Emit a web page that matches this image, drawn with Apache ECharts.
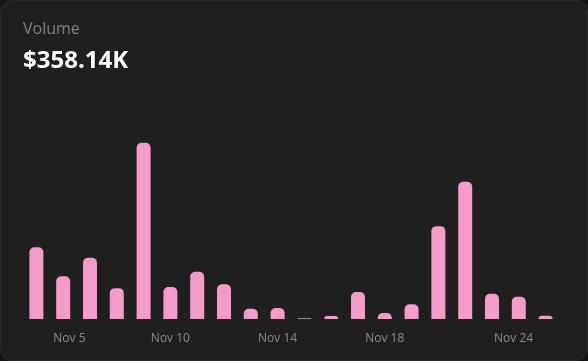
<!DOCTYPE html>
<html>
<head>
<meta charset="utf-8">
<script src="https://cdn.jsdelivr.net/npm/echarts@6/dist/echarts.min.js"></script>
<style>
html,body{margin:0;padding:0;background:#141414;}
#card{position:absolute;left:0;top:0;width:586px;height:359px;border:1px solid #2a2a2a;border-radius:12px;background:#1f1f1f;overflow:hidden;}
#chart{width:586px;height:359px;}
</style>
</head>
<body>
<div id="card"><div id="chart"></div></div>
<script>
const categories = ['Nov 5','Nov 6','Nov 7','Nov 8','Nov 9','Nov 10','Nov 11','Nov 12','Nov 13','Nov 14','Nov 15','Nov 16','Nov 17','Nov 18','Nov 19','Nov 20','Nov 21','Nov 22','Nov 23','Nov 24'];
const volumeK = [30.2, 18.0, 25.8, 13.0, 74.2, 13.5, 19.9, 14.6, 4.3, 4.6, 0.3, 1.3, 11.4, 2.5, 6.2, 39.1, 57.8, 10.6, 9.4, 1.4];
const labelIndexes = [0, 5, 9, 13, 19];
const titleText = 'Volume';
const totalText = '$358.14K';

const chart = echarts.init(document.getElementById('chart'), null, {renderer:'canvas'});
chart.setOption({
  animation:false,
  backgroundColor:'transparent',
  title:{
    text:titleText,
    subtext:totalText,
    left:17, top:15,
    itemGap:12,
    textStyle:{color:'#808080',fontSize:16,fontWeight:'normal',fontFamily:'Open Sans'},
    subtextStyle:{color:'#ffffff',fontSize:24,fontWeight:'bold',fontFamily:'Open Sans'}
  },
  grid:{left:22,right:28,top:128,bottom:41},
  xAxis:{
    type:'category',
    data:categories,
    axisLine:{show:false},
    axisTick:{show:false},
    axisLabel:{
      interval:function(i){return labelIndexes.indexOf(i)>=0;},
      color:'#8a8a8a',fontSize:12,fontFamily:'Open Sans',margin:14,
      formatter:function(v,i){
        if(i===0) return '{first|'+v+'}';
        if(i===categories.length-1) return '{last|'+v+'}';
        return v;
      },
      rich:{
        first:{color:'#8a8a8a',fontSize:12,fontFamily:'Open Sans',padding:[0,0,0,66]},
        last:{color:'#8a8a8a',fontSize:12,fontFamily:'Open Sans',padding:[0,64,0,0]}
      }
    }
  },
  yAxis:{type:'value',min:0,max:80,show:false,splitLine:{show:false}},
  series:[{
    type:'bar',
    data:volumeK,
    barWidth:14,
    itemStyle:{color:'#f59bc9',borderRadius:[5,5,0,0]}
  }]
});
</script>
</body>
</html>
